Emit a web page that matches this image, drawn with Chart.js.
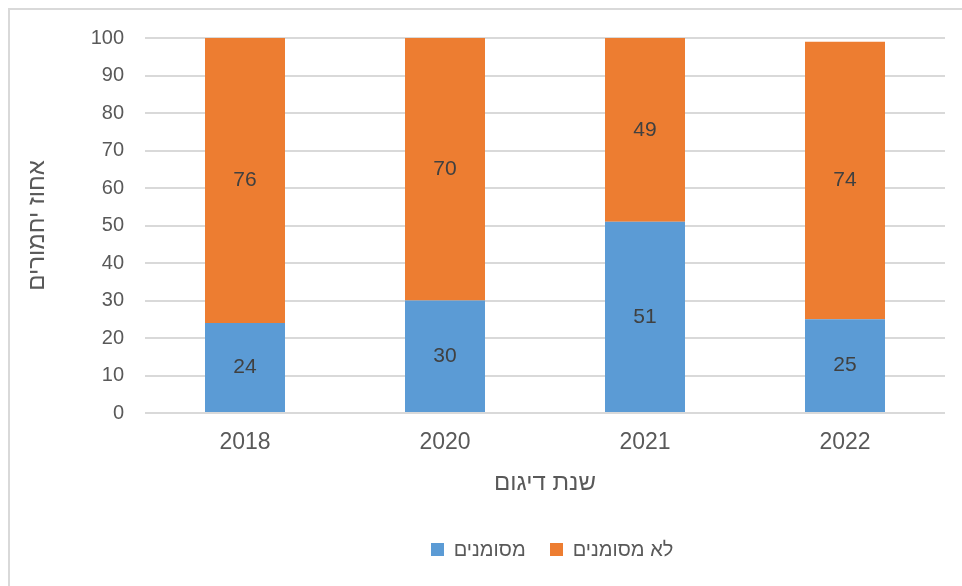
<!DOCTYPE html>
<html>
<head>
<meta charset="utf-8">
<script src="https://cdn.jsdelivr.net/npm/chart.js@4"></script>
<style>
  body { margin: 0; background: #fff; overflow: hidden; }
  #frame { position: absolute; left: 8px; top: 8px; width: 1000px; height: 650px; border: 2px solid #d9d9d9; }
  #chart { position: absolute; left: 0; top: 0; }
  #legend { position: absolute; left: 352px; width: 400px; top: 538px; display: flex; justify-content: center;
            font: 20px "Liberation Sans", Arial, sans-serif; color: #595959; }
  #legend .item { display: flex; align-items: center; margin: 0 12px; }
  #legend .box { width: 13px; height: 13px; margin-right: 10px; }
</style>
</head>
<body>
<div id="frame"></div>
<canvas id="chart" width="962" height="586"></canvas>
<div id="legend"></div>
<script>
const years = ['2018', '2020', '2021', '2022'];
const marked = [24, 30, 51, 25];      // מסומנים
const unmarked = [76, 70, 49, 74];    // לא מסומנים
const yTicks = [0, 10, 20, 30, 40, 50, 60, 70, 80, 90, 100];

const fontFamily = '"Liberation Sans", Arial, sans-serif';

// value labels in the middle of each bar segment
const barLabels = {
    id: 'barLabels',
    afterDatasetsDraw(chart) {
        const ctx = chart.ctx;
        ctx.save();
        ctx.fillStyle = '#404040';
        ctx.font = '21px ' + fontFamily;
        ctx.textAlign = 'center';
        ctx.textBaseline = 'middle';
        chart.data.datasets.forEach((ds, i) => {
            chart.getDatasetMeta(i).data.forEach((bar, j) => {
                const mid = (bar.y + bar.base) / 2;
                ctx.fillText(String(ds.data[j]), bar.x, mid);
            });
        });
        ctx.restore();
    }
};

const chart = new Chart(document.getElementById('chart'), {
    type: 'bar',
    data: {
        labels: years,
        datasets: [
            {
                label: 'מסומנים',
                data: marked,
                backgroundColor: '#5b9bd5',
                barPercentage: 1,
                categoryPercentage: 0.4
            },
            {
                label: 'לא מסומנים',
                data: unmarked,
                backgroundColor: '#ed7d31',
                barPercentage: 1,
                categoryPercentage: 0.4
            }
        ]
    },
    options: {
        responsive: false,
        animation: false,
        layout: { padding: { left: 23, right: 17, top: 38, bottom: 88 } },
        scales: {
            x: {
                stacked: true,
                afterFit: (scale) => { scale.height = 85; },
                grid: { display: false, drawTicks: false },
                border: { display: false },
                ticks: { color: '#595959', font: { family: fontFamily, size: 23 }, padding: 16 },
                title: {
                    display: true,
                    text: 'שנת דיגום',
                    color: '#595959',
                    font: { family: fontFamily, size: 24 },
                    padding: 0
                }
            },
            y: {
                stacked: true,
                min: 0,
                max: 100,
                afterBuildTicks: (scale) => { scale.ticks = yTicks.map(v => ({ value: v })); },
                afterFit: (scale) => { scale.width = 122; },
                grid: { color: '#d9d9d9', lineWidth: 2, drawTicks: false },
                border: { display: false },
                ticks: { color: '#595959', font: { family: fontFamily, size: 20 }, padding: 21 },
                title: {
                    display: true,
                    text: 'אחוז יחמורים',
                    color: '#595959',
                    font: { family: fontFamily, size: 24 },
                    padding: 0
                }
            }
        },
        plugins: {
            legend: { display: false },
            tooltip: { enabled: false }
        }
    },
    plugins: [barLabels]
});

// legend as html, in dataset order (blue first, on the left)
const legendEl = document.getElementById('legend');
chart.data.datasets.forEach(ds => {
    const item = document.createElement('div');
    item.className = 'item';
    const box = document.createElement('span');
    box.className = 'box';
    box.style.background = ds.backgroundColor;
    const text = document.createElement('span');
    text.textContent = ds.label;
    item.appendChild(box);
    item.appendChild(text);
    legendEl.appendChild(item);
});
</script>
</body>
</html>
